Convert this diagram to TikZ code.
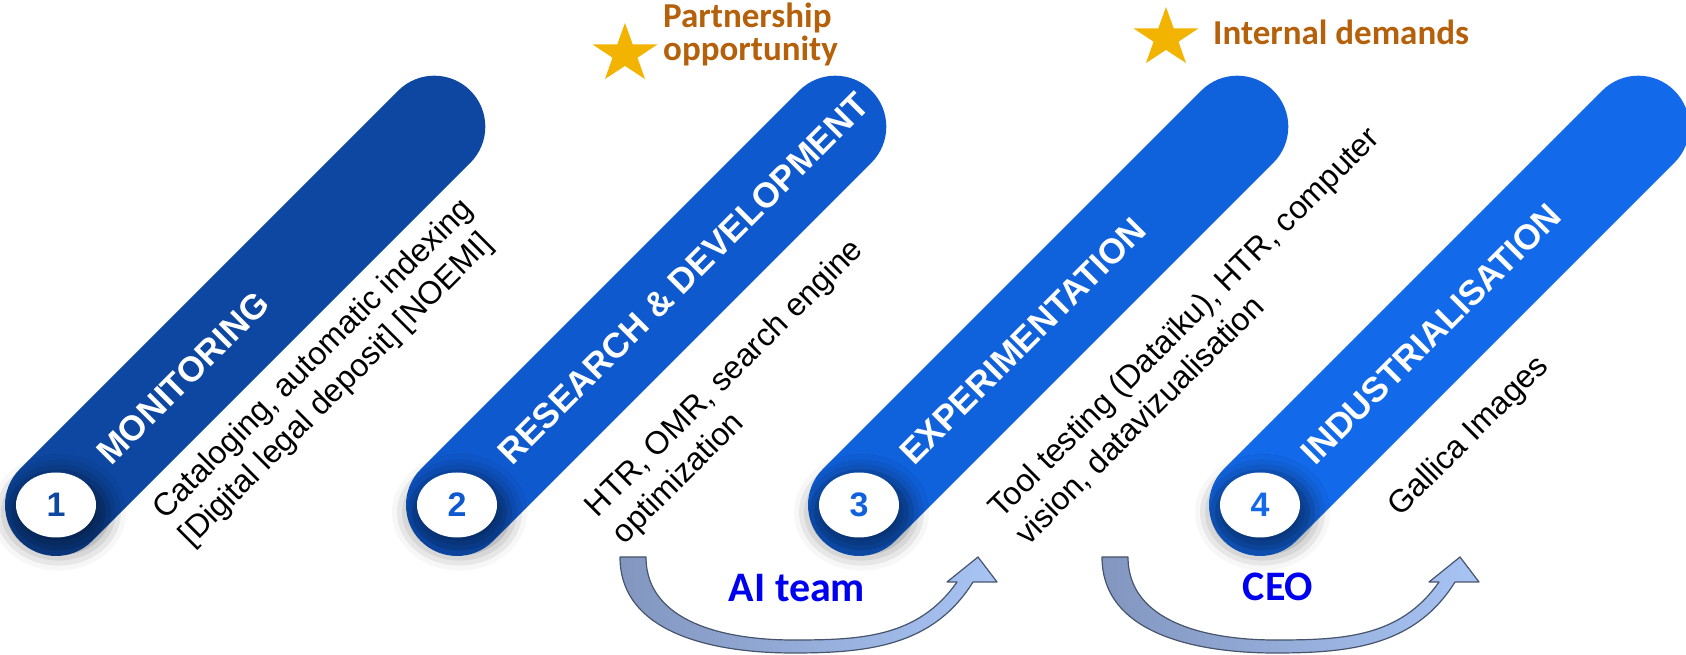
\documentclass[tikz,border=0pt]{standalone}
\usepackage{fontspec}
\setmainfont{Liberation Sans}
\newfontfamily\notefont{Carlito}
\usetikzlibrary{shapes.geometric,shapes.misc,shadows.blur}

\definecolor{stageA}{HTML}{0D47A1}
\definecolor{stageB}{HTML}{0F59CF}
\definecolor{stageC}{HTML}{1061DC}
\definecolor{stageD}{HTML}{1269EA}
\definecolor{starcol}{HTML}{F2B400}
\definecolor{notecol}{HTML}{B5600A}
\definecolor{teamcol}{HTML}{0000F0}
\definecolor{arrowL}{HTML}{8296BF}
\definecolor{arrowR}{HTML}{A8C4F4}
\definecolor{arrowline}{HTML}{46546C}

\tikzset{
  stagebar/.style={rounded rectangle, minimum width=637pt, minimum height=102pt, inner sep=0pt},
  stagetitle/.style={anchor=west, inner sep=0pt, text=white, font=\bfseries\fontsize{35}{35}\selectfont},
  stagenum/.style={ellipse, fill=white, minimum width=80pt, minimum height=65pt, inner sep=0pt,
    rotate=-45, font=\bfseries\fontsize{34}{34}\selectfont,
    blur shadow={shadow xshift=2pt, shadow yshift=-6pt, shadow scale=1.25,
      shadow blur radius=14pt, shadow opacity=50}},
  desctext/.style={rotate=45, anchor=base west, inner sep=0pt, font=\fontsize{32}{38}\selectfont},
  notestar/.style={star, star points=5, star point ratio=2.6, minimum size=62pt, inner sep=0pt,
    fill=starcol, xscale=1.1},
  notetext/.style={inner sep=0pt, align=left, text=notecol, font=\notefont\bfseries\fontsize{35}{33}\selectfont},
  teamarrow/.style={draw=arrowline, line width=1.2pt, line join=round, left color=arrowL, right color=arrowR},
  teamlabel/.style={inner sep=0pt, text=teamcol, font=\notefont\bfseries\fontsize{42}{42}\selectfont}
}

\begin{document}
\begin{tikzpicture}[x=1pt,y=1pt]
\useasboundingbox (0,0) rectangle (1686,655);

% the four stages, each in its own tilted frame
\foreach \i/\bx/\col/\ttl/\dalong/\dperp in {1/56/stageA/MONITORING/66/-88,
    2/457/stageB/{RESEARCH \& DEVELOPMENT}/90/-109,
    3/859/stageC/EXPERIMENTATION/90/-111,
    4/1260/stageD/INDUSTRIALISATION/90/-108}{
  \begin{scope}[shift={(\bx,150)}, rotate=45, transform shape]
    \node[stagebar, fill=\col] (bar\i) at (267.5,0) {};
    \node[stagetitle] (title\i) at (66,0) {\ttl};
    \node[stagenum, text=\col] (num\i) at (0,0) {\i};
    \coordinate (txt\i-1) at (\dalong,\dperp);
    \coordinate (txt\i-2) at (\dalong,\dperp-38);
  \end{scope}
}

% descriptions
\node[desctext] (desc1a) at (txt1-1) {Cataloging, automatic indexing};
\node[desctext] (desc1b) at (txt1-2) {[Digital legal deposit] [NOEMI]};
\node[desctext] (desc2a) at (txt2-1) {HTR, OMR, search engine};
\node[desctext] (desc2b) at (txt2-2) {optimization};
\node[desctext] (desc3a) at (txt3-1) {Tool testing (Dataïku), HTR, computer};
\node[desctext] (desc3b) at (txt3-2) {vision, datavizualisation};
\node[desctext] (desc4a) at (txt4-1) {Gallica Images};

% notes on top
\node[notestar] (star1) at (625,601) {};
\node[notetext, anchor=north west] (partner) at (663,652) {Partnership\\opportunity};
\node[notestar] (star2) at (1166,617) {};
\node[notetext, anchor=base west] (internal) at (1213,610) {Internal demands};

% curved arrows below
\foreach \dx in {0,482}{
  \begin{scope}[xshift=\dx]
    \draw[teamarrow] (620,98) to[out=-90,in=180] (793,2) to[out=0,in=-122] (973,73)
      -- (997,73) -- (978,98) -- (947,73) -- (957,73)
      to[out=-125,in=0] (793,15) to[out=180,in=-90] (646,98) -- cycle;
  \end{scope}
}
\node[teamlabel] (ai) at (797,67) {AI team};
\node[teamlabel] (ceo) at (1278,68) {CEO};
\end{tikzpicture}
\end{document}
